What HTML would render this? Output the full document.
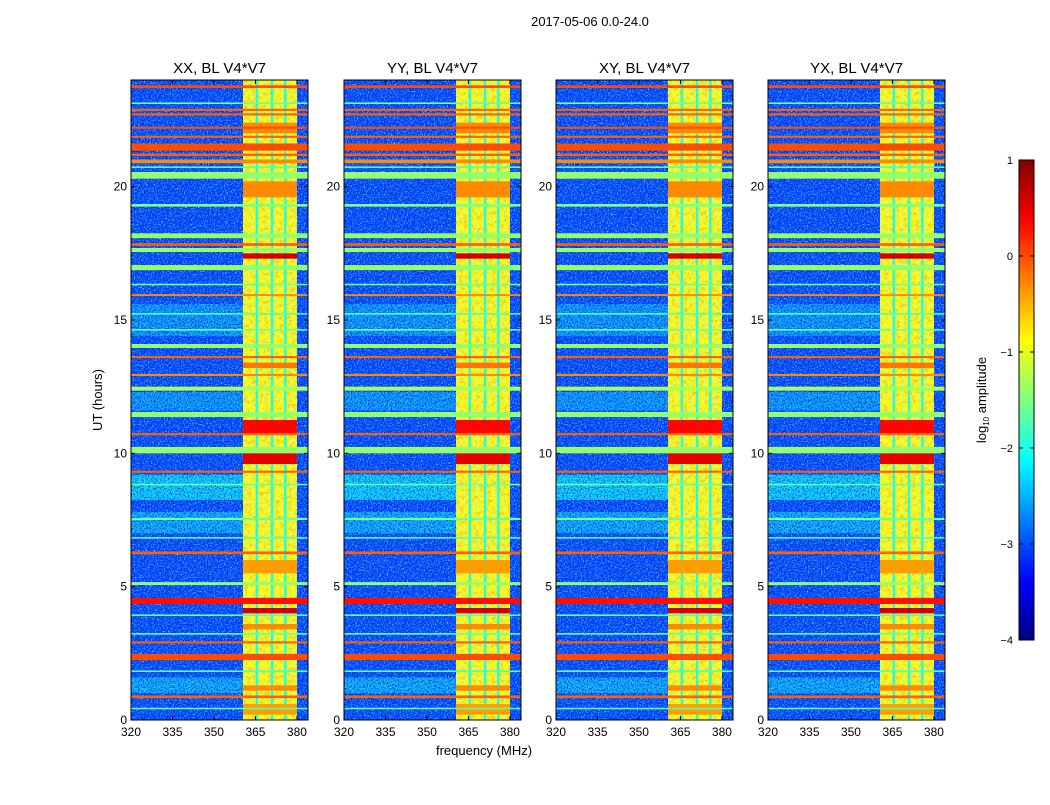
<!DOCTYPE html>
<html><head><meta charset="utf-8">
<style>
body{margin:0;background:#fff;font-family:"Liberation Sans",sans-serif;}
svg text{font-family:"Liberation Sans",sans-serif;fill:#000;}
</style></head>
<body>
<svg id="fig" width="1050" height="800" xmlns="http://www.w3.org/2000/svg">
<rect width="1050" height="800" fill="#fff"/>
<defs>
<linearGradient id="jet" x1="0" y1="1" x2="0" y2="0">
<stop offset="0" stop-color="#000080"/><stop offset="0.125" stop-color="#0000ff"/>
<stop offset="0.375" stop-color="#00ffff"/><stop offset="0.625" stop-color="#ffff00"/>
<stop offset="0.875" stop-color="#ff0000"/><stop offset="1" stop-color="#800000"/>
</linearGradient>
<filter id="noiseL" x="0" y="0" width="100%" height="100%">
<feTurbulence type="fractalNoise" baseFrequency="0.7" numOctaves="1" seed="3"/>
<feColorMatrix type="matrix" values="0 0 0 0 0.1  0 0 0 0 0.75  0 0 0 0 1  3 0 0 0 -1.4"/>
</filter>
<filter id="noiseD" x="0" y="0" width="100%" height="100%">
<feTurbulence type="fractalNoise" baseFrequency="0.7" numOctaves="1" seed="9"/>
<feColorMatrix type="matrix" values="0 0 0 0 0  0 0 0 0 0  0 0 0 0 0.75  3 0 0 0 -1.4"/>
</filter>
<filter id="noiseO" x="0" y="0" width="100%" height="100%">
<feTurbulence type="fractalNoise" baseFrequency="0.25" numOctaves="2" seed="5"/>
<feColorMatrix type="matrix" values="0 0 0 0 1  0 0 0 0 0.55  0 0 0 0 0  3 0 0 0 -1.3"/>
</filter>
<filter id="noiseG" x="0" y="0" width="100%" height="100%">
<feTurbulence type="fractalNoise" baseFrequency="0.5" numOctaves="1" seed="11"/>
<feColorMatrix type="matrix" values="0 0 0 0 0.55  0 0 0 0 1  0 0 0 0 0.45  3 0 0 0 -1.3"/>
</filter>
</defs>
<text x="590" y="26" font-size="13" text-anchor="middle">2017-05-06 0.0-24.0</text>
<text transform="translate(102,400) rotate(-90)" font-size="13" text-anchor="middle">UT (hours)</text>
<text x="484" y="755" font-size="13" text-anchor="middle">frequency (MHz)</text>
<g id="panels"></g>
<g id="cbar"></g>
</svg>
<script>
// panel titles
const panelTitles = ["XX, BL V4*V7","YY, BL V4*V7","XY, BL V4*V7","YX, BL V4*V7"];
// axis ticks
const xTicks = [320,335,350,365,380];
const yTicks = [0,5,10,15,20];
const cbarTicks = [1,0,-1,-2,-3,-4];
// background levels (log10 amplitude) of quiet part and RFI band
const quietLevel = -3.0;
const bandLevel = -0.85;
const bandStartMHz = 360.5, bandEndMHz = 380;
const gapFreqs = [365.5, 371, 375.8];
const gapLevel = -2.0;
// lighter background time ranges
const bgStart = [8.25, 14.4, 7.0, 1.0, 11.6];
const bgEnd   = [9.2, 15.6, 7.8, 1.6, 12.3];
const bgValue = [-2.3, -2.6, -2.5, -2.5, -2.6];
// full-width flagged rows
const flagStart = [23.70,22.84,22.67,22.17,21.83,21.35,21.15,20.88,20.30,18.07,17.78,17.55,16.87,13.95,13.57,12.35,11.36,10.68,10.00,9.27,6.22,5.06,4.35,2.87,2.25,0.82,19.25,15.9,12.9,7.5,16.3,15.2,14.6,8.8,6.8,3.9,3.2,1.8,0.4,23.1,20.7];
const flagEnd   = [23.80,22.92,22.75,22.25,21.91,21.62,21.24,21.02,20.55,18.25,17.88,17.70,17.06,14.10,13.65,12.50,11.55,10.76,10.24,9.35,6.32,5.17,4.58,2.95,2.48,0.92,19.35,15.97,12.98,7.58,16.36,15.26,14.66,8.86,6.86,3.96,3.26,1.86,0.46,23.16,20.76];
const flagValue = [0.0,-0.1,-0.1,0.0,-0.1,0.0,-0.1,-0.3,-1.4,-1.4,-0.1,-1.4,-1.4,-1.4,-0.1,-1.3,-1.4,-0.1,-1.4,-0.1,-0.1,-1.4,0.3,-0.1,0.0,-0.1,-1.5,-0.3,-0.3,-1.6,-1.6,-1.7,-1.6,-1.6,-1.7,-1.7,-1.6,-1.7,-1.7,-1.6,-1.7];
// RFI events inside band only
const rfiStart = [17.3,16.95,10.75,9.6,4.0,19.6,22.0,13.2,3.4,1.1,5.5,0.2];
const rfiEnd   = [17.5,17.02,11.25,10.2,4.2,20.2,22.4,13.4,3.6,1.3,6.0,0.6];
const rfiValue = [0.6,0.3,0.35,0.5,0.6,-0.3,-0.3,-0.2,-0.3,-0.3,-0.4,-0.4];

const panelX = [131,344,556,768];
const pW = 177, pTop = 80, pBot = 720;
const fMin = 320, fMax = 384;
function xs(f,i){return panelX[i] + (f-fMin)/(fMax-fMin)*pW;}
function ys(h){return pBot - h/24*(pBot-pTop);}
function jet(v){
  let t = Math.max(0,Math.min(1,(v+4)/5));
  const c = x=>Math.round(255*Math.max(0,Math.min(1,x)));
  const r = 1.5 - Math.abs(4*t-3), g = 1.5 - Math.abs(4*t-2), b = 1.5 - Math.abs(4*t-1);
  return `rgb(${c(r)},${c(g)},${c(b)})`;
}
const NS="http://www.w3.org/2000/svg";
function mk(tag, attrs, parent){const e=document.createElementNS(NS,tag);for(const k in attrs)e.setAttribute(k,attrs[k]);parent.appendChild(e);return e;}
const panels=document.getElementById('panels');
for(let i=0;i<4;i++){
  const g=mk('g',{},panels);
  
  
  const x0=xs(fMin,i), xb0=xs(bandStartMHz,i), xb1=xs(bandEndMHz,i), x1=xs(fMax,i);
  let r=mk('rect',{x:x0,y:pTop,width:pW,height:pBot-pTop,fill:jet(quietLevel)},g);
  
  
  for(let k=0;k<bgStart.length;k++){
    r=mk('rect',{x:x0,y:ys(bgEnd[k]),width:xb0-x0,height:ys(bgStart[k])-ys(bgEnd[k]),fill:jet(bgValue[k])},g);
    
    
  }
  r=mk('rect',{x:x0,y:pTop,width:pW,height:pBot-pTop,filter:'url(#noiseL)'},g);
  
  
  r=mk('rect',{x:x0,y:pTop,width:pW,height:pBot-pTop,filter:'url(#noiseD)'},g);
  
  
  r=mk('rect',{x:xb0,y:pTop,width:xb1-xb0,height:pBot-pTop,fill:jet(bandLevel)},g);
  
  
  r=mk('rect',{x:xb0,y:pTop,width:xb1-xb0,height:pBot-pTop,filter:'url(#noiseO)'},g);
  
  
  r=mk('rect',{x:xb0,y:pTop,width:xb1-xb0,height:pBot-pTop,filter:'url(#noiseG)'},g);
  
  
  for(const gf of gapFreqs){
    r=mk('rect',{x:xs(gf,i)-1.2,y:pTop,width:2.4,height:pBot-pTop,fill:jet(gapLevel)},g);
    
    
  }
  for(let k=0;k<rfiStart.length;k++){
    r=mk('rect',{x:xb0,y:ys(rfiEnd[k]),width:xb1-xb0,height:ys(rfiStart[k])-ys(rfiEnd[k]),fill:jet(rfiValue[k])},g);
    
    
  }
  for(let k=0;k<flagStart.length;k++){
    r=mk('rect',{x:x0,y:ys(flagEnd[k]),width:pW,height:Math.max(1,ys(flagStart[k])-ys(flagEnd[k])),fill:jet(flagValue[k])},g);
    
    
  }
  r=mk('rect',{x:x0,y:pTop,width:pW,height:pBot-pTop,fill:'none',stroke:'#000','stroke-width':1},g);
  
  
  let t=mk('text',{x:x0+pW/2,y:73,'font-size':15,'text-anchor':'middle'},g);
  t.textContent=panelTitles[i];
  
  
  for(const xt of xTicks){
    const xp=xs(xt,i);
    mk('line',{x1:xp,x2:xp,y1:pBot,y2:pBot-4,stroke:'#000'},g);
    mk('line',{x1:xp,x2:xp,y1:pTop,y2:pTop+4,stroke:'#000'},g);
    t=mk('text',{x:xp,y:736,'font-size':12,'text-anchor':'middle'},g);
    t.textContent=xt;
    
    
  }
  for(const yt of yTicks){
    const yp=ys(yt);
    mk('line',{x1:x0,x2:x0+4,y1:yp,y2:yp,stroke:'#000'},g);
    mk('line',{x1:x1,x2:x1-4,y1:yp,y2:yp,stroke:'#000'},g);
    t=mk('text',{x:x0-4,y:yp+4,'font-size':12,'text-anchor':'end'},g);
    t.textContent=yt;
    
    
  }
}
// colorbar
const cb=document.getElementById('cbar');
const cbX=1019,cbW=15,cbTop=160,cbBot=640;
function cy(v){return cbBot-(v+4)/5*(cbBot-cbTop);}
let r=mk('rect',{x:cbX,y:cbTop,width:cbW,height:cbBot-cbTop,fill:'url(#jet)',stroke:'#000'},cb);


for(const v of cbarTicks){
  mk('line',{x1:cbX,x2:cbX+4,y1:cy(v),y2:cy(v),stroke:'#000'},cb);
  mk('line',{x1:cbX+cbW,x2:cbX+cbW-4,y1:cy(v),y2:cy(v),stroke:'#000'},cb);
  const t=mk('text',{x:1013,y:cy(v)+4,'font-size':11,'text-anchor':'end'},cb);
  t.textContent=v<0?'\u2212'+(-v):String(v);
  
  
}
const lab=mk('text',{transform:'translate(986,400) rotate(-90)','font-size':13,'text-anchor':'middle'},cb);
lab.innerHTML='log<tspan font-size="8" dy="3">10</tspan><tspan dy="-3"> amplitude</tspan>';


</script>
</body></html>
